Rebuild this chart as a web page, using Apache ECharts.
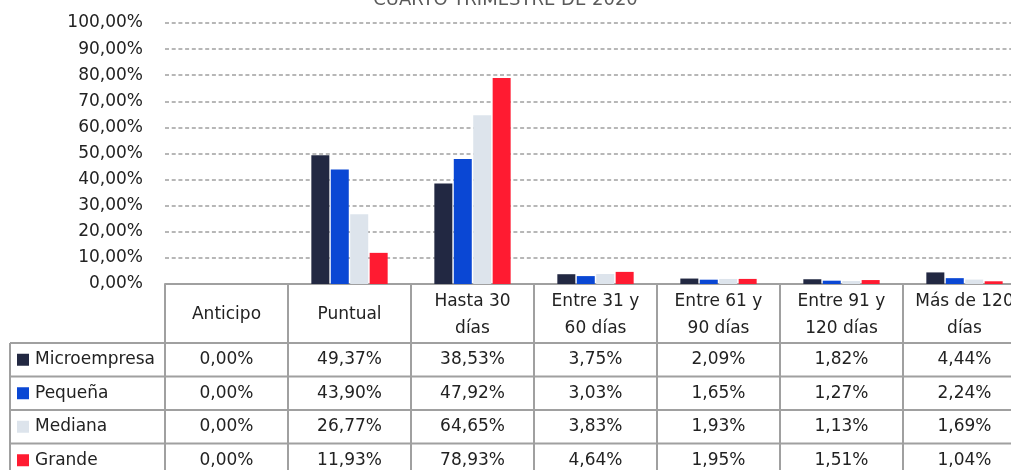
<!DOCTYPE html>
<html>
<head>
<meta charset="utf-8">
<script src="https://cdn.jsdelivr.net/npm/echarts@6/dist/echarts.min.js"></script>
<style>
  html, body { margin: 0; padding: 0; background: #fff; }
  #chart { width: 1011px; height: 470px; }
</style>
</head>
<body>
<div id="chart"></div>
<script>
// categorias (plazos de pago)
const categories = ['Anticipo', 'Puntual', 'Hasta 30\ndías', 'Entre 31 y\n60 días', 'Entre 61 y\n90 días', 'Entre 91 y\n120 días', 'Más de 120\ndías']
// series (%)
const seriesNames = ['Microempresa', 'Pequeña', 'Mediana', 'Grande']
const microempresa = [0.00, 49.37, 38.53, 3.75, 2.09, 1.82, 4.44]
const pequena = [0.00, 43.90, 47.92, 3.03, 1.65, 1.27, 2.24]
const mediana = [0.00, 26.77, 64.65, 3.83, 1.93, 1.13, 1.69]
const grande = [0.00, 11.93, 78.93, 4.64, 1.95, 1.51, 1.04]
const seriesData = [microempresa, pequena, mediana, grande]
const colors = ['#222842', '#0a47d4', '#dde4ec', '#ff1b31']

const FONT = 'DejaVu Sans'
const FS = 17
const lineColor = '#a0a0a0'
const fmt = v => v.toFixed(2).replace('.', ',') + '%'

const chart = echarts.init(document.getElementById('chart'))

const gridBottom = 186
const option = {
  animation: false,
  title: {
    text: 'CUARTO TRIMESTRE DE 2020',
    left: 'center',
    top: -14,
    textStyle: { fontFamily: FONT, fontSize: 18, fontWeight: 'normal', color: '#595959' }
  },
  grid: { left: 165, right: -15, top: 23, bottom: gridBottom, outerBoundsMode: 'none', containLabel: false },
  xAxis: {
    type: 'category',
    data: categories,
    axisLine: { lineStyle: { color: lineColor, width: 2 } },
    axisTick: { show: true, length: 200, lineStyle: { color: lineColor, width: 2 } },
    axisLabel: {
      interval: 0,
      margin: 31,
      verticalAlign: 'middle',
      lineHeight: 27,
      fontFamily: FONT,
      fontSize: FS,
      color: '#222'
    }
  },
  yAxis: {
    type: 'value',
    min: 0,
    max: 100,
    interval: 10,
    axisLine: { show: false },
    axisTick: { show: false },
    axisLabel: {
      margin: 22,
      fontFamily: FONT,
      fontSize: FS,
      color: '#222',
      formatter: v => v.toFixed(2).replace('.', ',') + '%'
    },
    splitLine: { lineStyle: { color: '#a0a0a0', width: 1.5, type: [4, 2.7] } }
  },
  series: seriesNames.map((name, i) => ({
    name: name,
    type: 'bar',
    data: seriesData[i],
    barWidth: 18,
    barGap: '8%',
    itemStyle: { color: colors[i] }
  }))
}
chart.setOption(option)

// tabla de datos bajo el eje
const H = chart.getHeight()
const W = chart.getWidth()
const axisY = H - gridBottom
const headerBottom = axisY + 59
const rowH = 33.5
const graphic = []

// lineas horizontales
for (let r = 0; r < seriesNames.length; r++) {
  const y = headerBottom + r * rowH
  graphic.push({ type: 'line', shape: { x1: 10, y1: y, x2: W, y2: y }, style: { stroke: lineColor, lineWidth: 2 } })
}
// borde izquierdo de la leyenda
graphic.push({ type: 'line', shape: { x1: 10, y1: headerBottom, x2: 10, y2: H }, style: { stroke: lineColor, lineWidth: 2 } })

seriesNames.forEach((name, r) => {
  const cy = headerBottom + r * rowH + rowH / 2
  graphic.push({ type: 'rect', shape: { x: 17, y: cy - 6, width: 12, height: 12 }, style: { fill: colors[r] } })
  graphic.push({
    type: 'text', x: 35, y: cy,
    style: { text: name, font: FS + 'px "' + FONT + '"', fill: '#222', verticalAlign: 'middle' }
  })
  seriesData[r].forEach((v, c) => {
    const x = chart.convertToPixel({ xAxisIndex: 0 }, c)
    graphic.push({
      type: 'text', x: x, y: cy,
      style: { text: fmt(v), font: FS + 'px "' + FONT + '"', fill: '#222', align: 'center', verticalAlign: 'middle' }
    })
  })
})

chart.setOption({ graphic: graphic })
</script>
</body>
</html>
